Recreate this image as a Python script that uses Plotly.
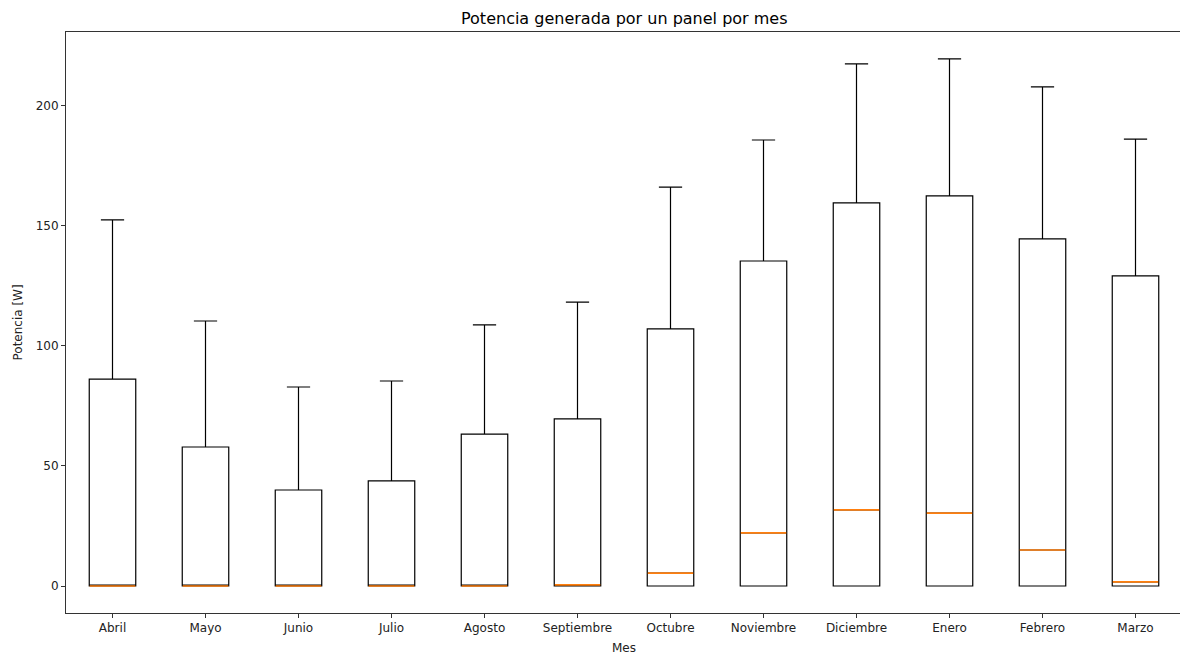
import plotly.graph_objects as go

# Monthly power statistics for a single panel (W)
meses = ["Abril", "Mayo", "Junio", "Julio", "Agosto", "Septiembre",
         "Octubre", "Noviembre", "Diciembre", "Enero", "Febrero", "Marzo"]
q1 = [0, 0, 0, 0, 0, 0, 0, 0, 0, 0, 0, 0]
mediana = [0, 0, 0, 0, 0, 0.5, 5.4, 22.1, 31.7, 30.4, 15.0, 1.7]
q3 = [86.2, 57.9, 40.0, 43.8, 63.3, 69.6, 107.1, 135.4, 159.6, 162.5, 144.6, 129.2]
bigote_inf = [0, 0, 0, 0, 0, 0, 0, 0, 0, 0, 0, 0]
bigote_sup = [152.5, 110.4, 82.9, 85.4, 108.8, 118.3, 166.2, 185.8, 217.5, 219.6, 207.9, 186.2]

posiciones = list(range(1, len(meses) + 1))
ancho = 0.5

W, H = 1180, 654
L, T, B = 66, 32, 41
px_por_unidad = 93.0  # horizontal scale of the axes

fig = go.Figure()

fig.add_trace(go.Box(
    x=posiciones,
    q1=q1, median=mediana, q3=q3,
    lowerfence=bigote_inf, upperfence=bigote_sup,
    width=ancho,
    whiskerwidth=0.5,
    line=dict(color="black", width=1.2),
    fillcolor="rgba(0,0,0,0)",
    boxpoints=False,
    hoverinfo="skip",
    showlegend=False,
))

# Orange median segments drawn over each box
mx, my = [], []
for p, m in zip(posiciones, mediana):
    mx += [p - ancho / 2 + 0.005, p + ancho / 2 - 0.005, None]
    my += [m, m, None]
fig.add_trace(go.Scatter(
    x=mx, y=my, mode="lines",
    line=dict(color="#ff7f0e", width=1.7),
    showlegend=False, hoverinfo="skip",
))

x_max = 0.5 + (W - L) / px_por_unidad
centro = (0.5 + 12.5) / 2

fig.update_layout(
    width=W, height=H,
    margin=dict(l=L, r=0, t=T, b=B),
    plot_bgcolor="white", paper_bgcolor="white",
    font=dict(family="DejaVu Sans", size=12, color="#222222"),
    annotations=[
        dict(text="Potencia generada por un panel por mes",
             x=centro, xref="x", y=1, yref="paper", yshift=T - 18,
             yanchor="middle", xanchor="center", showarrow=False,
             font=dict(size=16, color="black")),
        dict(text="Mes", x=centro, xref="x", y=0, yref="paper",
             yanchor="top", yshift=-26, xanchor="center", showarrow=False,
             font=dict(size=12)),
        dict(text="Potencia [W]", x=0, xref="paper", xshift=-49,
             y=0.5, yref="paper", textangle=-90,
             xanchor="center", yanchor="middle", showarrow=False,
             font=dict(size=12)),
    ],
)

fig.update_xaxes(
    range=[0.5, x_max], automargin=False,
    tickmode="array", tickvals=posiciones, ticktext=meses,
    ticks="outside", ticklen=4, tickcolor="#333333",
    showline=True, linecolor="#333333", linewidth=1, mirror=True,
    showgrid=False, zeroline=False,
)
fig.update_yaxes(
    range=[-11.25, 230.8], automargin=False,
    tickmode="array", tickvals=[0, 50, 100, 150, 200],
    ticks="outside", ticklen=4, tickcolor="#333333",
    showline=True, linecolor="#333333", linewidth=1, mirror=False,
    showgrid=False, zeroline=False,
)

fig.write_html("out.html")
